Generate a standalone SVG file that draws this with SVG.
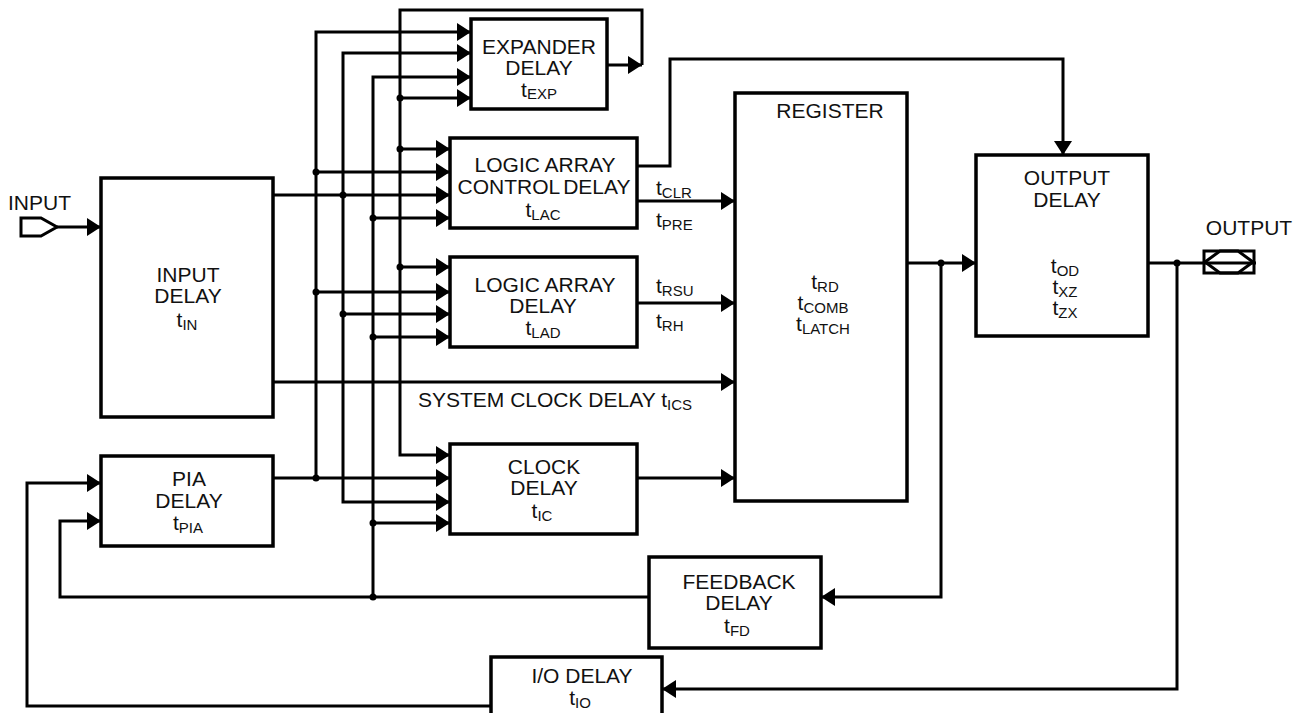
<svg xmlns="http://www.w3.org/2000/svg" width="1300" height="713" viewBox="0 0 1300 713">
<style>
.bx{fill:#fff;stroke:#000;stroke-width:3.5}
.ln{fill:none;stroke:#000;stroke-width:3}
.dot{fill:#000}
text{font-family:"Liberation Sans",Arial,sans-serif;font-size:21px;fill:#111}
.c{text-anchor:middle}
.s{font-size:15px}
</style>
<defs>
<marker id="ar" viewBox="0 0 14 18" refX="14" refY="9" markerWidth="14" markerHeight="18" markerUnits="userSpaceOnUse" orient="auto-start-reverse">
<path d="M0,0 L14,9 L0,18 z" fill="#000"/>
</marker>
</defs>
<rect width="1300" height="713" fill="#fff"/>

<g id="connectors">
<path class="ln" d="M57,227 H101" marker-end="url(#ar)"/>
<path class="ln" d="M450,455 H400 V10 H642 V65" marker-start="url(#ar)"/>
<path class="ln" d="M471,32 H316 V478" marker-start="url(#ar)"/>
<path class="ln" d="M450,502 H343 V53 H471" marker-start="url(#ar)" marker-end="url(#ar)"/>
<path class="ln" d="M471,77 H373 V597" marker-start="url(#ar)"/>
<path class="ln" d="M400,98 H471" marker-end="url(#ar)"/>
<path class="ln" d="M607,65 H642" marker-end="url(#ar)"/>
<path class="ln" d="M400,149 H450" marker-end="url(#ar)"/>
<path class="ln" d="M316,172 H450" marker-end="url(#ar)"/>
<path class="ln" d="M273,195 H450" marker-end="url(#ar)"/>
<path class="ln" d="M373,218 H450" marker-end="url(#ar)"/>
<path class="ln" d="M400,267 H450" marker-end="url(#ar)"/>
<path class="ln" d="M316,292 H450" marker-end="url(#ar)"/>
<path class="ln" d="M343,314 H450" marker-end="url(#ar)"/>
<path class="ln" d="M373,337 H450" marker-end="url(#ar)"/>
<path class="ln" d="M273,478 H450" marker-end="url(#ar)"/>
<path class="ln" d="M373,523 H450" marker-end="url(#ar)"/>
<path class="ln" d="M273,382 H735" marker-end="url(#ar)"/>
<path class="ln" d="M637,201 H735" marker-end="url(#ar)"/>
<path class="ln" d="M637,303 H735" marker-end="url(#ar)"/>
<path class="ln" d="M637,478 H735" marker-end="url(#ar)"/>
<path class="ln" d="M637,166 H670 V59 H1063 V155" marker-end="url(#ar)"/>
<path class="ln" d="M907,263 H976" marker-end="url(#ar)"/>
<path class="ln" d="M941,263 V597 H821" marker-end="url(#ar)"/>
<path class="ln" d="M1148,263 H1256"/>
<path class="ln" d="M1177,263 V689 H662" marker-end="url(#ar)"/>
<path class="ln" d="M649,597 H60 V521 H101" marker-end="url(#ar)"/>
<path class="ln" d="M491,706 H27 V483 H101" marker-end="url(#ar)"/>
<circle class="dot" cx="400" cy="98" r="3.5"/>
<circle class="dot" cx="400" cy="149" r="3.5"/>
<circle class="dot" cx="400" cy="267" r="3.5"/>
<circle class="dot" cx="316" cy="172" r="3.5"/>
<circle class="dot" cx="316" cy="292" r="3.5"/>
<circle class="dot" cx="316" cy="478" r="3.5"/>
<circle class="dot" cx="343" cy="195" r="3.5"/>
<circle class="dot" cx="343" cy="314" r="3.5"/>
<circle class="dot" cx="373" cy="218" r="3.5"/>
<circle class="dot" cx="373" cy="337" r="3.5"/>
<circle class="dot" cx="373" cy="523" r="3.5"/>
<circle class="dot" cx="373" cy="597" r="3.5"/>
<circle class="dot" cx="941" cy="263" r="3.5"/>
<circle class="dot" cx="1177" cy="263" r="3.5"/>
<text x="656" y="195">t<tspan class="s" dy="3">CLR</tspan></text>
<text x="656" y="227">t<tspan class="s" dy="3">PRE</tspan></text>
<text x="656" y="293">t<tspan class="s" dy="3">RSU</tspan></text>
<text x="656" y="328">t<tspan class="s" dy="3">RH</tspan></text>
<text x="418" y="407">SYSTEM CLOCK DELAY t<tspan class="s" dy="3">ICS</tspan></text>
</g>

<g id="input-pin">
<text x="8" y="210">INPUT</text>
<path class="ln" d="M21,218 H41 L57,227 L41,236 H21 Z"/>
</g>

<g id="output-pin">
<text class="c" x="1249" y="235">OUTPUT</text>
<rect class="ln" x="1204" y="251" width="50" height="22"/>
<path class="ln" d="M1205,262 L1220,251 H1238 L1253,262 L1238,273 H1220 Z"/>
</g>

<g id="input-delay">
<rect class="bx" x="101" y="178" width="172" height="239"/>
<text class="c" x="188" y="282">INPUT</text>
<text class="c" x="188" y="303">DELAY</text>
<text class="c" x="187" y="327">t<tspan class="s" dy="3">IN</tspan></text>
</g>

<g id="pia-delay">
<rect class="bx" x="101" y="456" width="172" height="90"/>
<text class="c" x="189" y="486">PIA</text>
<text class="c" x="189" y="508">DELAY</text>
<text class="c" x="188" y="530">t<tspan class="s" dy="3">PIA</tspan></text>
</g>

<g id="expander-delay">
<rect class="bx" x="471" y="19" width="136" height="90"/>
<text class="c" x="539" y="54">EXPANDER</text>
<text class="c" x="539" y="75">DELAY</text>
<text class="c" x="539" y="97">t<tspan class="s" dy="2">EXP</tspan></text>
</g>

<g id="logic-array-control-delay">
<rect class="bx" x="450" y="138" width="187" height="90"/>
<text class="c" x="545" y="172">LOGIC ARRAY</text>
<text class="c" x="544" y="194" word-spacing="-2">CONTROL DELAY</text>
<text class="c" x="543" y="217">t<tspan class="s" dy="3">LAC</tspan></text>
</g>

<g id="logic-array-delay">
<rect class="bx" x="450" y="257" width="187" height="90"/>
<text class="c" x="545" y="292">LOGIC ARRAY</text>
<text class="c" x="543" y="313">DELAY</text>
<text class="c" x="543" y="335">t<tspan class="s" dy="3">LAD</tspan></text>
</g>

<g id="clock-delay">
<rect class="bx" x="450" y="444" width="187" height="90"/>
<text class="c" x="544" y="474">CLOCK</text>
<text class="c" x="544" y="495">DELAY</text>
<text class="c" x="542" y="518">t<tspan class="s" dy="3">IC</tspan></text>
</g>

<g id="register">
<rect class="bx" x="735" y="93" width="172" height="408"/>
<text class="c" x="830" y="118">REGISTER</text>
<text class="c" x="825" y="289">t<tspan class="s" dy="3">RD</tspan></text>
<text class="c" x="823" y="310">t<tspan class="s" dy="3">COMB</tspan></text>
<text class="c" x="823" y="331">t<tspan class="s" dy="3">LATCH</tspan></text>
</g>

<g id="output-delay">
<rect class="bx" x="976" y="155" width="172" height="181"/>
<text class="c" x="1067" y="185">OUTPUT</text>
<text class="c" x="1067" y="207">DELAY</text>
<text class="c" x="1065" y="273">t<tspan class="s" dy="3">OD</tspan></text>
<text class="c" x="1065" y="294">t<tspan class="s" dy="3">XZ</tspan></text>
<text class="c" x="1065" y="315">t<tspan class="s" dy="3">ZX</tspan></text>
</g>

<g id="feedback-delay">
<rect class="bx" x="649" y="557" width="172" height="91"/>
<text class="c" x="739" y="589">FEEDBACK</text>
<text class="c" x="739" y="610">DELAY</text>
<text class="c" x="737" y="633">t<tspan class="s" dy="3">FD</tspan></text>
</g>

<g id="io-delay">
<rect class="bx" x="491" y="657" width="171" height="80"/>
<text class="c" x="582" y="683">I/O DELAY</text>
<text class="c" x="580" y="705">t<tspan class="s" dy="3">IO</tspan></text>
</g>
</svg>
